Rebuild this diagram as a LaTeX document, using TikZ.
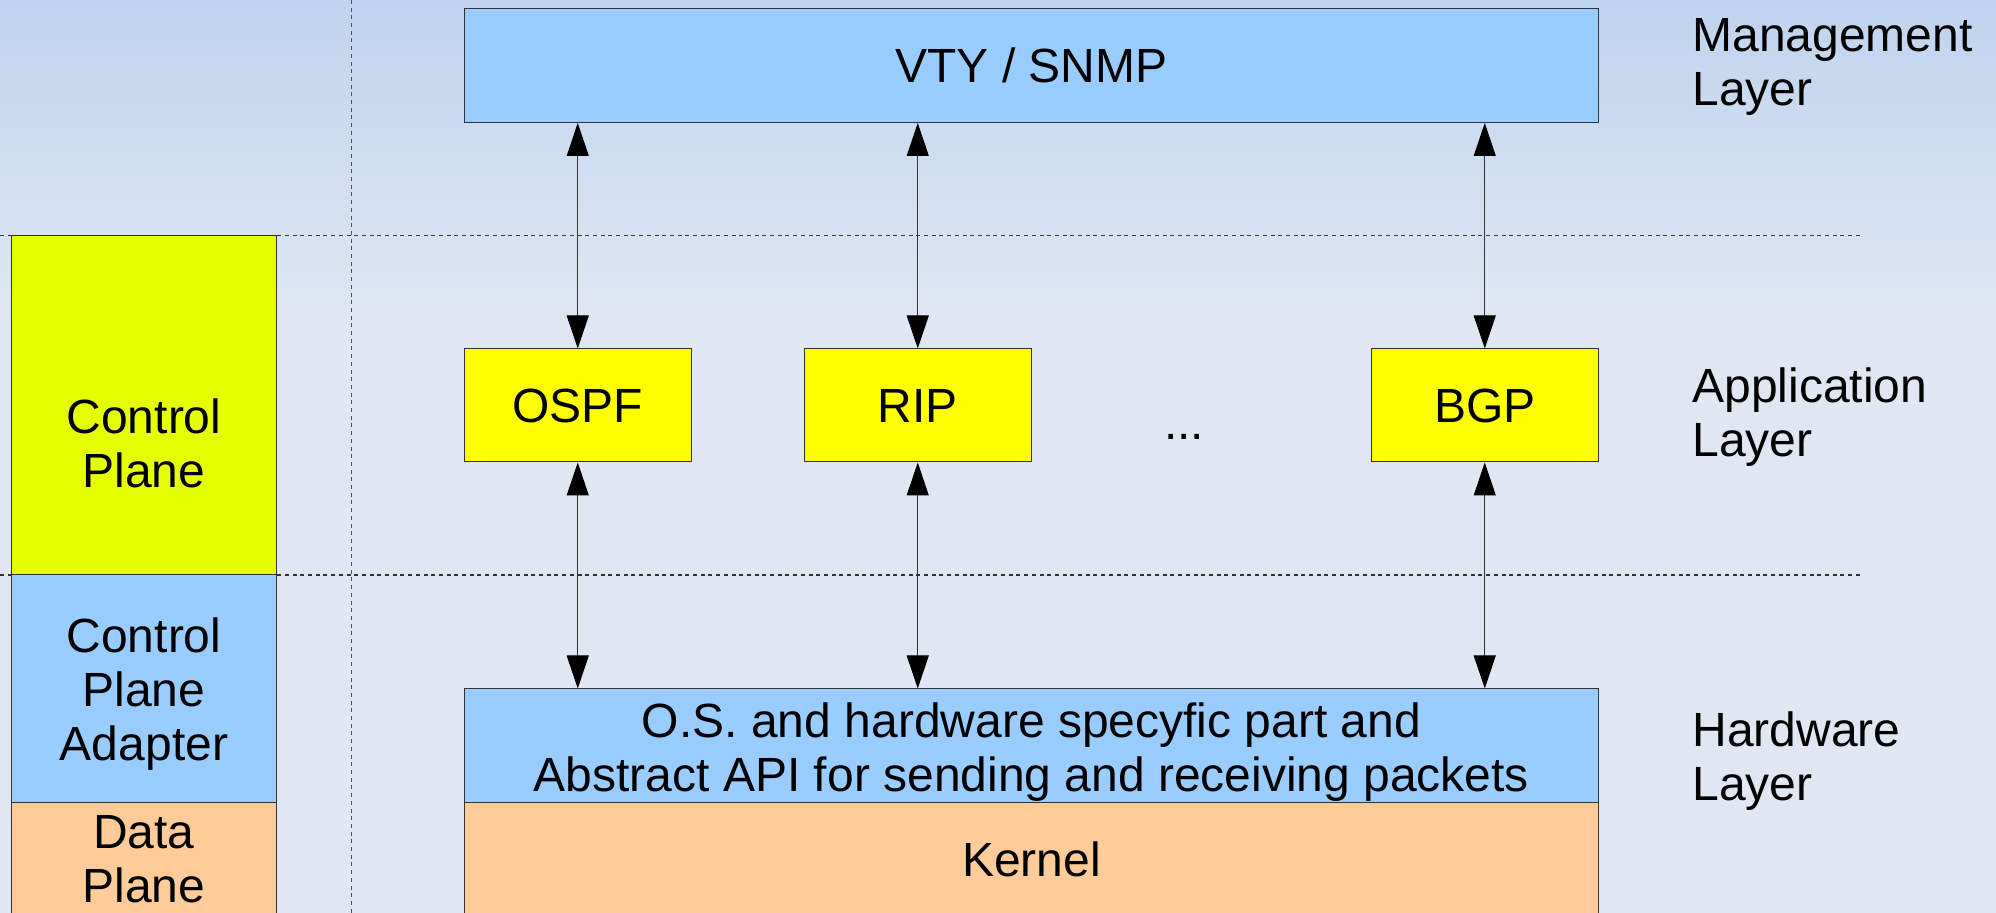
\documentclass[tikz,border=0pt]{standalone}
\usepackage{fontspec}
\setmainfont{Liberation Sans}
\usetikzlibrary{arrows.meta,fit}

\definecolor{bgtop}{HTML}{C0D4EE}
\definecolor{bgbot}{HTML}{E0E7F3}
\definecolor{cpgreen}{HTML}{E6FF00}
\definecolor{lblue}{HTML}{99CCFF}
\definecolor{peach}{HTML}{FFCC99}
\definecolor{proto}{HTML}{FFFF00}
\definecolor{edge}{HTML}{333333}
\definecolor{vguide}{HTML}{4A5461}

\begin{document}
\begin{tikzpicture}[x=0.5pt,y=-0.5pt,
  txt/.style={font=\fontsize{24}{27}\selectfont, inner sep=0pt, align=center},
  blk/.style={draw=edge, line width=0.5pt, inner sep=0pt},
  guide/.style={draw=edge, line width=0.55pt, dash pattern=on 2pt off 1.85pt},
  vguideline/.style={draw=vguide, line width=0.7pt, dash pattern=on 2pt off 1.85pt},
  link/.style={line width=0.5pt, draw=edge,
    {Triangle[length=16.5pt,width=11pt,color=black]}-{Triangle[length=16.5pt,width=11pt,color=black]}},
  side/.style={txt, align=left, anchor=west},
  inside/.style={label={[txt]center:#1}}
]
% canvas and background gradient
\useasboundingbox (0,0) rectangle (1996,913);
\clip (0,0) rectangle (1996,913);
\fill[bgbot] (0,0) rectangle (1996,913);
\shade[top color=bgtop, bottom color=bgbot] (0,0) rectangle (1996,330);

% layer separators
\coordinate (s1l) at (0,235.5);   \coordinate (s1r) at (1862,235.5);
\coordinate (s2l) at (0,575);     \coordinate (s2r) at (1862,575);
\coordinate (vtop) at (351.5,0);  \coordinate (vbot) at (351.5,913);
\draw[guide] (s1l) -- (s1r);
\draw[guide] (s2l) -- (s2r);
\draw[vguideline] (vtop) -- (vbot);

% plane column
\node[blk, fill=cpgreen, fit={(11.7,235.5) (276.3,575)}] (cp) {};
\node[blk, fill=lblue,   fit={(11.7,575) (276.3,802.5)}] (cpa) {};
\node[blk, fill=peach,   fit={(11.7,802.5) (276.3,915.5)}, inside={Data\\Plane}] (dp) {};
\node[txt] (cptext)  at (144,443) {Control\\Plane};
\node[txt] (cpatext) at (144,694) {Control\\Plane\\Adapter};

% management layer
\node[blk, fill=lblue, fit={(464.5,8.5) (1598.5,122.5)}, inside={VTY / SNMP}] (vty) {};

% application layer
\node[blk, fill=proto, fit={(464.5,349) (691,462)},   inside=OSPF] (ospf) {};
\node[blk, fill=proto, fit={(804.5,349) (1031,462)},  inside=RIP]  (rip)  {};
\node[blk, fill=proto, fit={(1371.5,349) (1598,462)}, inside=BGP]  (bgp)  {};
\node[txt, anchor=base] (more) at (1184,440) {...};

% hardware layer
\node[blk, fill=lblue, fit={(464.5,689) (1598.5,802.5)}] (os) {};
\node[blk, fill=peach, fit={(464.5,802.5) (1598.5,915.5)}, inside=Kernel] (kernel) {};
\node[txt] (ostext) at (1031.5,752) {O.S. and hardware specyfic part and\\Abstract API for sending and receiving packets};

% connectors
\foreach \p in {ospf,rip,bgp}{
  \draw[link] (vty.south -| \p.north) -- (\p.north);
  \draw[link] (\p.south) -- (\p.south |- os.north);
}

% layer names
\node[side] (lmgmt) at (1692,67)  {Management\\Layer};
\node[side] (lapp)  at (1692,417) {Application\\Layer};
\node[side] (lhw)   at (1692,761) {Hardware\\Layer};
\end{tikzpicture}
\end{document}
